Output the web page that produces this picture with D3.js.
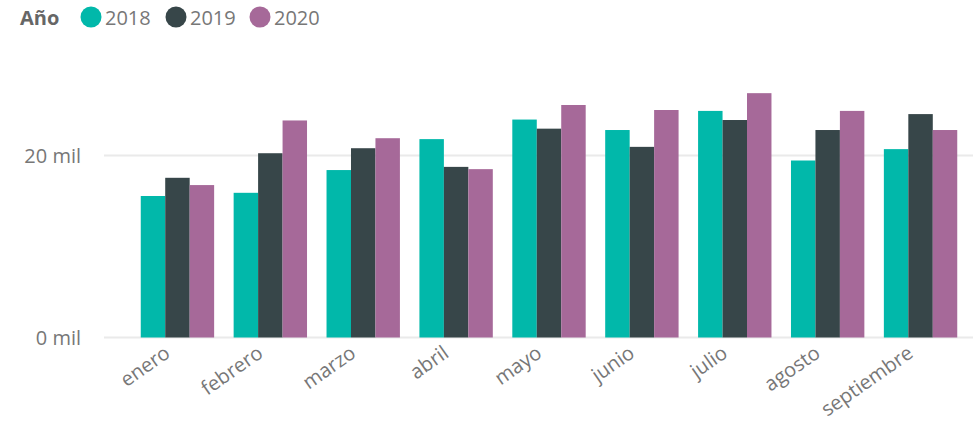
<!DOCTYPE html>
<html>
<head>
<meta charset="utf-8">
<script src="https://cdn.jsdelivr.net/npm/d3@7"></script>
<style>
  body { margin: 0; background: #fff; }
  svg { font-family: "Segoe UI", "Open Sans", "Noto Sans", sans-serif; }
</style>
</head>
<body>
<div id="chart"></div>
<script>
// Chart values
var months = ["enero", "febrero", "marzo", "abril", "mayo", "junio", "julio", "agosto", "septiembre"];
var years = ["2018", "2019", "2020"];
var values2018 = [15550, 15900, 18400, 21800, 23950, 22800, 24900, 19450, 20700];
var values2019 = [17550, 20250, 20800, 18750, 22950, 20950, 23900, 22800, 24550];
var values2020 = [16750, 23850, 21900, 18500, 25550, 25000, 26850, 24900, 22800];
var yTicks = [0, 20000];
var colors = ["#01B8AA", "#374649", "#A66999"];

var width = 973;
var height = 422;

var svg = d3.select("#chart").append("svg")
    .attr("width", width)
    .attr("height", height);

var series = [values2018, values2019, values2020];
var rows = months.map(function(m, i) {
    return { month: m, vals: years.map(function(y, j) { return { year: y, value: series[j][i] }; }) };
});

// Scales
var x0 = d3.scaleBand()
    .domain(months)
    .range([131, 967])
    .paddingInner(0.21)
    .paddingOuter(0.105);

var x1 = d3.scaleBand()
    .domain(years)
    .range([0, x0.bandwidth()]);

var y = d3.scaleLinear()
    .domain([0, 30000])
    .range([337.5, 64.5]);

var color = d3.scaleOrdinal().domain(years).range(colors);

// Gridlines
svg.append("g")
    .selectAll("line")
    .data(yTicks)
    .enter()
    .append("line")
    .attr("x1", 104)
    .attr("x2", width)
    .attr("y1", d => y(d))
    .attr("y2", d => y(d))
    .attr("stroke", "#eaeaea")
    .attr("stroke-width", 2);

// Y tick labels
svg.append("g")
    .selectAll("text")
    .data(yTicks)
    .enter()
    .append("text")
    .attr("x", 81)
    .attr("y", d => y(d))
    .attr("dy", "0.35em")
    .attr("text-anchor", "end")
    .attr("font-size", 20)
    .attr("fill", "#777")
    .text(d => d3.format("d")(d / 1000) + " mil");

// Bars
svg.append("g")
    .selectAll("g")
    .data(rows)
    .enter()
    .append("g")
    .attr("transform", d => "translate(" + x0(d.month) + ",0)")
    .selectAll("rect")
    .data(d => d.vals)
    .enter()
    .append("rect")
    .attr("x", d => x1(d.year))
    .attr("width", x1.bandwidth())
    .attr("y", d => y(d.value))
    .attr("height", d => y(0) - y(d.value))
    .attr("fill", d => color(d.year));

// X labels, rotated
svg.append("g")
    .selectAll("text")
    .data(months)
    .enter()
    .append("text")
    .attr("transform", d => "translate(" + (x0(d) + x0.bandwidth() / 2 - 6) + ",356)rotate(-35)")
    .attr("text-anchor", "end")
    .attr("font-size", 20)
    .attr("fill", "#777")
    .text(d => d);

// Legend
var legend = svg.append("g");
legend.append("text")
    .attr("x", 20)
    .attr("y", 25)
    .attr("font-size", 20)
    .attr("font-weight", "bold")
    .attr("fill", "#666")
    .text("Año");

var legendX = [91, 176, 260];
var item = legend.selectAll("g.item")
    .data(years)
    .enter()
    .append("g")
    .attr("class", "item")
    .attr("transform", (d, i) => "translate(" + legendX[i] + ",17)");

item.append("circle")
    .attr("r", 10.5)
    .attr("fill", d => color(d));

item.append("text")
    .attr("x", 14)
    .attr("y", 8)
    .attr("font-size", 20)
    .attr("fill", "#777")
    .text(d => d);
</script>
</body>
</html>
